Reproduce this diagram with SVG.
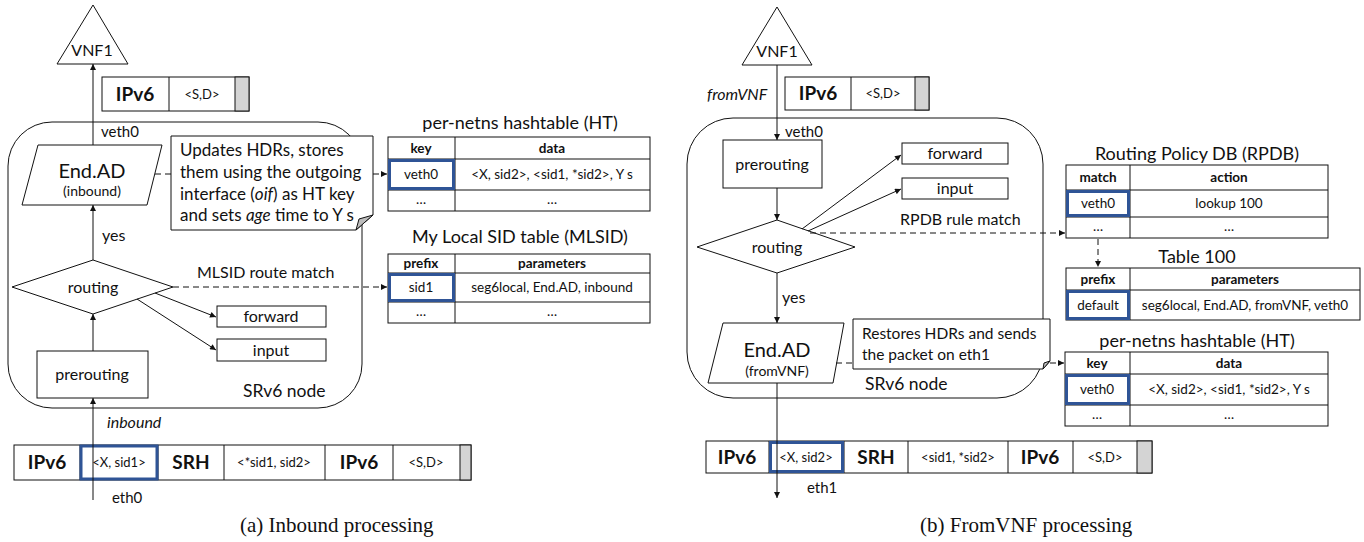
<svg xmlns="http://www.w3.org/2000/svg" width="1364" height="542" viewBox="0 0 1364 542">
<defs>
<marker id="ah" viewBox="0 0 10 10" refX="10" refY="5" markerWidth="7" markerHeight="6" markerUnits="userSpaceOnUse" orient="auto"><path d="M0,0 L10,5 L0,10 z" fill="#111"/></marker>
<style>
text{font-family:Lato,"Open Sans","Liberation Sans",sans-serif;fill:#111}
.ln{stroke:#111;stroke-width:1;fill:none}
.ar{stroke:#111;stroke-width:1;fill:none;marker-end:url(#ah)}
.da{stroke:#111;stroke-width:1;fill:none;stroke-dasharray:6 4}
.bx{stroke:#111;stroke-width:1;fill:#fff}
.blue{stroke:#2F5496;stroke-width:3;fill:none}
.gray{fill:#d4d4d4;stroke:#111;stroke-width:1}
.c{text-anchor:middle}
.b{font-weight:bold}
.i{font-style:italic}
.t13{font-size:13.5px}
.t16{font-size:16px}
.cap{font-family:"Liberation Serif","Times New Roman",serif;font-size:21px}
</style>
</defs>
<rect width="1364" height="542" fill="#fff"/>

<!-- ===== LEFT PANEL ===== -->
<g id="srv6-node-a"><rect x="8" y="122" width="354" height="286" rx="44" class="ln" stroke-width="1.2"/><text x="243" y="397" font-size="17.5px">SRv6 node</text></g>
<g id="vnf1-a"><polygon points="93,5 57,64 128,64" class="bx"/><text x="92" y="56" class="c" font-size="16px">VNF1</text></g>
<g id="pkt-top-a">
<rect x="102" y="77" width="147" height="34" class="bx"/>
<rect x="235" y="77" width="14" height="34" class="gray"/>
<line x1="169" y1="77" x2="169" y2="111" class="ln"/>
<text x="135" y="101" class="c b" font-size="19px">IPv6</text>
<text x="202" y="99" class="c" font-size="13px">&lt;S,D&gt;</text>
</g>
<g id="endad-a"><polygon points="38,145 162,145 147,205 22,205" class="bx"/><text x="92" y="178" class="c" font-size="20px">End.AD</text><text x="92" y="196" class="c" font-size="14px">(inbound)</text></g>
<g id="note-a">
<path d="M171,136 H373 V215 L356,230 H171 Z" class="bx"/>
<path d="M373,215 L359,219 L356,230 Z" fill="#bdbdbd" stroke="#111" stroke-width="1"/>
<text font-size="17px"><tspan x="180" y="156">Updates HDRs, stores</tspan><tspan x="180" y="178">them using the outgoing</tspan><tspan x="180" y="200">interface (<tspan class="i">oif</tspan>) as HT key</tspan><tspan x="180" y="221">and sets <tspan class="i">age</tspan> time to Y s</tspan></text>
</g>
<g id="routing-a"><polygon points="93,260 173,287 93,314 12,287" class="bx"/><text x="93" y="293" class="c t16">routing</text></g>
<g id="forward-a"><rect x="217" y="306" width="109" height="21" class="bx"/><text x="271" y="322" class="c t16">forward</text></g>
<g id="input-a"><rect x="217" y="339" width="109" height="22" class="bx"/><text x="271" y="356" class="c t16">input</text></g>
<g id="prerouting-a"><rect x="37" y="351" width="111" height="47" class="bx"/><text x="92" y="380" class="c t16">prerouting</text></g>
<g id="pkt-bottom-a">
<rect x="14" y="445" width="457" height="35" class="bx"/>
<rect x="460" y="445" width="11" height="35" class="gray"/>
<line x1="80" y1="445" x2="80" y2="480" class="ln"/>
<line x1="158" y1="445" x2="158" y2="480" class="ln"/>
<line x1="224" y1="445" x2="224" y2="480" class="ln"/>
<line x1="325" y1="445" x2="325" y2="480" class="ln"/>
<line x1="393" y1="445" x2="393" y2="480" class="ln"/>
<text x="47" y="469" class="c b" font-size="19px">IPv6</text>
<text x="119" y="467" class="c" font-size="13px">&lt;X, sid1&gt;</text>
<text x="191" y="469" class="c b" font-size="19px">SRH</text>
<text x="274" y="467" class="c" font-size="13px">&lt;*sid1, sid2&gt;</text>
<text x="359" y="469" class="c b" font-size="19px">IPv6</text>
<text x="426" y="467" class="c" font-size="13px">&lt;S,D&gt;</text>
<rect x="81" y="446" width="76" height="33" class="blue"/>
</g>
<g id="ht-a">
<text x="520" y="129" class="c" font-size="18px">per-netns hashtable (HT)</text>
<rect x="388" y="137" width="262" height="74" class="bx"/>
<line x1="388" y1="159" x2="650" y2="159" class="ln"/>
<line x1="388" y1="190" x2="650" y2="190" class="ln"/>
<line x1="455" y1="137" x2="455" y2="211" class="ln"/>
<text x="421" y="153" class="c b t13">key</text>
<text x="552" y="153" class="c b t13">data</text>
<text x="421" y="179" class="c t13">veth0</text>
<text x="552" y="179" class="c t13">&lt;X, sid2&gt;, &lt;sid1, *sid2&gt;, Y s</text>
<text x="421" y="204" class="c t13">…</text>
<text x="552" y="204" class="c t13">…</text>
<rect x="389.5" y="160.5" width="64" height="28" class="blue"/>
</g>
<g id="mlsid-a">
<text x="520" y="243" class="c" font-size="18px">My Local SID table (MLSID)</text>
<rect x="388" y="254" width="262" height="69" class="bx"/>
<line x1="388" y1="273" x2="650" y2="273" class="ln"/>
<line x1="388" y1="302" x2="650" y2="302" class="ln"/>
<line x1="455" y1="254" x2="455" y2="323" class="ln"/>
<text x="421" y="268" class="c b t13">prefix</text>
<text x="552" y="268" class="c b t13">parameters</text>
<text x="421" y="292" class="c t13">sid1</text>
<text x="552" y="292" class="c t13">seg6local, End.AD, inbound</text>
<text x="421" y="316" class="c t13">…</text>
<text x="552" y="316" class="c t13">…</text>
<rect x="389.5" y="274.5" width="64" height="26" class="blue"/>
</g>
<text x="240" y="532" class="cap">(a) Inbound processing</text>

<!-- ===== RIGHT PANEL ===== -->
<g id="srv6-node-b"><rect x="687" y="118" width="356" height="280" rx="46" class="ln" stroke-width="1.2"/><text x="865" y="390" font-size="17.5px">SRv6 node</text></g>
<g id="vnf1-b"><polygon points="777,7 742,65 812,65" class="bx"/><text x="777" y="57" class="c" font-size="16px">VNF1</text></g>
<g id="pkt-top-b">
<rect x="785" y="77" width="144" height="33" class="bx"/>
<rect x="915" y="77" width="14" height="33" class="gray"/>
<line x1="851" y1="77" x2="851" y2="110" class="ln"/>
<text x="818" y="100" class="c b" font-size="19px">IPv6</text>
<text x="883" y="98" class="c" font-size="13px">&lt;S,D&gt;</text>
</g>
<g id="prerouting-b"><rect x="723" y="140" width="99" height="48" class="bx"/><text x="772" y="170" class="c t16">prerouting</text></g>
<g id="forward-b"><rect x="902" y="143" width="106" height="21" class="bx"/><text x="955" y="159" class="c t16">forward</text></g>
<g id="input-b"><rect x="902" y="178" width="106" height="21" class="bx"/><text x="955" y="194" class="c t16">input</text></g>
<g id="routing-b"><polygon points="777,220 855,247 777,273 697,247" class="bx"/><text x="777" y="253" class="c t16">routing</text></g>
<g id="endad-b"><polygon points="723,323 844,323 833,383 708,383" class="bx"/><text x="777" y="357" class="c" font-size="20px">End.AD</text><text x="777" y="376" class="c" font-size="14px">(fromVNF)</text></g>
<g id="note-b">
<path d="M853,319 H1050 V361 L1043,369 H853 Z" class="bx"/>
<path d="M1050,361 L1044,363 L1043,369 Z" fill="#bdbdbd" stroke="#111" stroke-width="1"/>
<text font-size="15.5px"><tspan x="862" y="339">Restores HDRs and sends</tspan><tspan x="862" y="360">the packet on eth1</tspan></text>
</g>
<g id="pkt-bottom-b">
<rect x="706" y="441" width="446" height="32" class="bx"/>
<rect x="1137" y="441" width="15" height="32" class="gray"/>
<line x1="769" y1="441" x2="769" y2="473" class="ln"/>
<line x1="844" y1="441" x2="844" y2="473" class="ln"/>
<line x1="908" y1="441" x2="908" y2="473" class="ln"/>
<line x1="1008" y1="441" x2="1008" y2="473" class="ln"/>
<line x1="1073" y1="441" x2="1073" y2="473" class="ln"/>
<text x="737" y="464" class="c b" font-size="19px">IPv6</text>
<text x="806" y="462" class="c" font-size="13px">&lt;X, sid2&gt;</text>
<text x="876" y="464" class="c b" font-size="19px">SRH</text>
<text x="958" y="462" class="c" font-size="13px">&lt;sid1, *sid2&gt;</text>
<text x="1040" y="464" class="c b" font-size="19px">IPv6</text>
<text x="1105" y="462" class="c" font-size="13px">&lt;S,D&gt;</text>
<rect x="770.5" y="442.5" width="72" height="29" class="blue"/>
</g>
<g id="rpdb-b">
<text x="1197" y="160" class="c" font-size="18px">Routing Policy DB (RPDB)</text>
<rect x="1066" y="165" width="262" height="73" class="bx"/>
<line x1="1066" y1="190" x2="1328" y2="190" class="ln"/>
<line x1="1066" y1="217" x2="1328" y2="217" class="ln"/>
<line x1="1130" y1="165" x2="1130" y2="238" class="ln"/>
<text x="1098" y="182" class="c b t13">match</text>
<text x="1229" y="182" class="c b t13">action</text>
<text x="1098" y="208" class="c t13">veth0</text>
<text x="1229" y="208" class="c t13">lookup 100</text>
<text x="1098" y="231" class="c t13">…</text>
<text x="1229" y="231" class="c t13">…</text>
<rect x="1067.5" y="191.5" width="61" height="24" class="blue"/>
</g>
<g id="table100-b">
<text x="1197" y="263" class="c" font-size="18px">Table 100</text>
<rect x="1066" y="268" width="294" height="52" class="bx"/>
<line x1="1066" y1="290" x2="1360" y2="290" class="ln"/>
<line x1="1130" y1="268" x2="1130" y2="320" class="ln"/>
<text x="1098" y="284" class="c b t13">prefix</text>
<text x="1245" y="284" class="c b t13">parameters</text>
<text x="1098" y="310" class="c t13">default</text>
<text x="1245" y="310" class="c t13">seg6local, End.AD, fromVNF, veth0</text>
<rect x="1067.5" y="291.5" width="61" height="27" class="blue"/>
</g>
<g id="ht-b">
<text x="1197" y="347" class="c" font-size="18px">per-netns hashtable (HT)</text>
<rect x="1065" y="352" width="263" height="74" class="bx"/>
<line x1="1065" y1="374" x2="1328" y2="374" class="ln"/>
<line x1="1065" y1="405" x2="1328" y2="405" class="ln"/>
<line x1="1130" y1="352" x2="1130" y2="426" class="ln"/>
<text x="1097" y="368" class="c b t13">key</text>
<text x="1229" y="368" class="c b t13">data</text>
<text x="1097" y="394" class="c t13">veth0</text>
<text x="1229" y="394" class="c t13">&lt;X, sid2&gt;, &lt;sid1, *sid2&gt;, Y s</text>
<text x="1097" y="419" class="c t13">…</text>
<text x="1229" y="419" class="c t13">…</text>
<rect x="1066.5" y="375.5" width="62" height="28" class="blue"/>
</g>
<text x="920" y="532" class="cap">(b) FromVNF processing</text>

<!-- ===== CONNECTORS ===== -->
<g id="connectors">
<line x1="93" y1="500" x2="93" y2="398" class="ar"/>
<line x1="93" y1="351" x2="93" y2="314" class="ar"/>
<line x1="93" y1="260" x2="93" y2="205" class="ar"/>
<line x1="93" y1="145" x2="93" y2="64" class="ar"/>
<line x1="155" y1="293" x2="216" y2="317" class="ar"/>
<line x1="137" y1="299" x2="216" y2="350" class="ar"/>
<line x1="173" y1="287" x2="387" y2="287" class="da" marker-end="url(#ah)"/>
<line x1="155" y1="174" x2="171" y2="174" class="da"/>
<line x1="373" y1="174" x2="387" y2="174" class="da" marker-end="url(#ah)"/>
<text x="101" y="137" font-size="15px">veth0</text>
<text x="102" y="241" class="t16">yes</text>
<text x="197" y="278" class="t16">MLSID route match</text>
<text x="107" y="428" class="t16 i">inbound</text>
<text x="112" y="503" font-size="15px">eth0</text>

<line x1="777" y1="65" x2="777" y2="140" class="ar"/>
<line x1="777" y1="188" x2="777" y2="220" class="ar"/>
<line x1="777" y1="273" x2="777" y2="323" class="ar"/>
<line x1="777" y1="383" x2="777" y2="498" class="ar"/>
<line x1="802" y1="229" x2="901" y2="155" class="ar"/>
<line x1="808" y1="231" x2="901" y2="189" class="ar"/>
<line x1="810" y1="233" x2="1065" y2="233" class="da" marker-end="url(#ah)"/>
<line x1="1098" y1="239" x2="1098" y2="267" class="da" marker-end="url(#ah)"/>
<line x1="836" y1="363" x2="853" y2="363" class="da"/>
<line x1="1050" y1="363" x2="1064" y2="363" class="da" marker-end="url(#ah)"/>
<text x="707" y="100" class="t16 i">fromVNF</text>
<text x="785" y="137" font-size="15px">veth0</text>
<text x="900" y="225" class="t16">RPDB rule match</text>
<text x="782" y="303" class="t16">yes</text>
<text x="807" y="493" font-size="15px">eth1</text>
</g>
</svg>
